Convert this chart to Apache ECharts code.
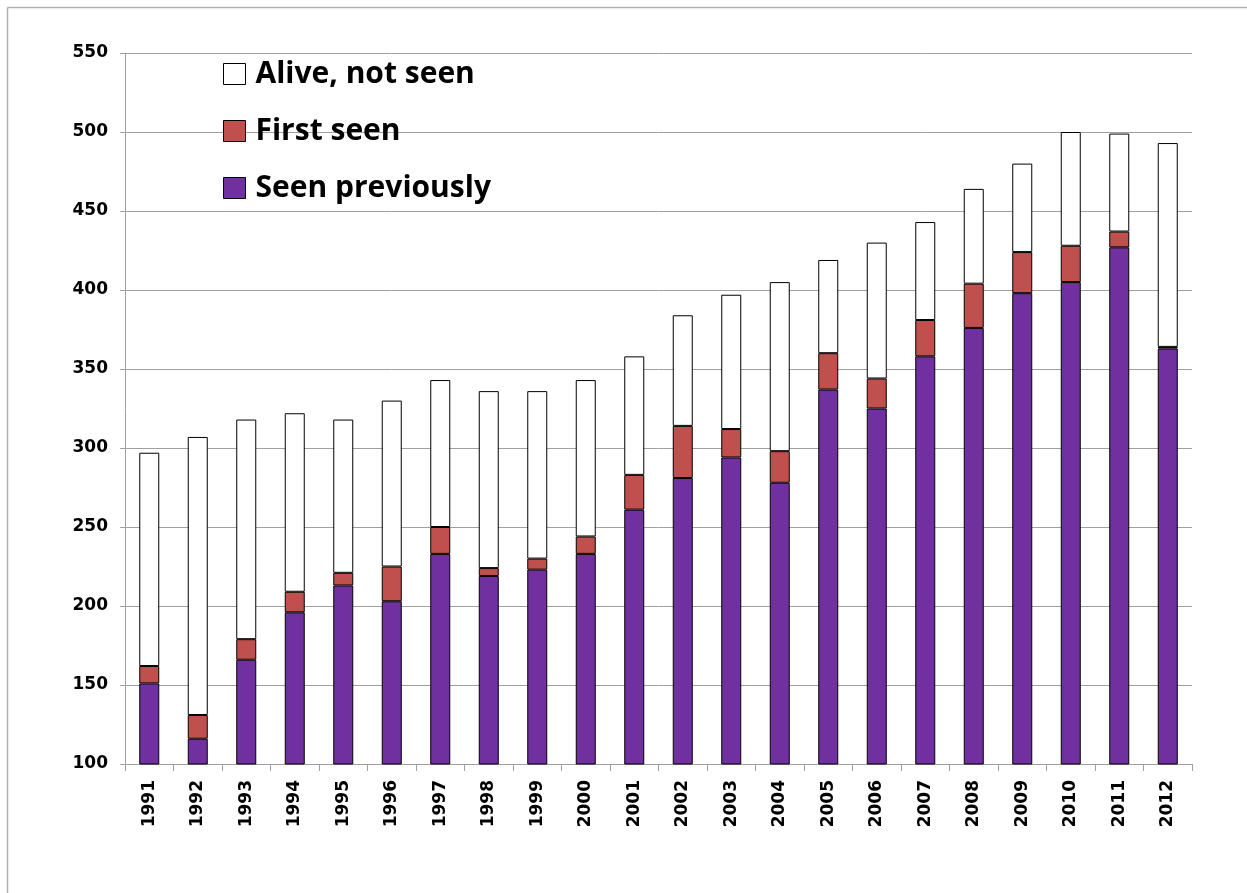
<!DOCTYPE html>
<html>
<head>
<meta charset="utf-8">
<script src="https://cdn.jsdelivr.net/npm/echarts@6/dist/echarts.min.js"></script>
<style>
  html, body { margin: 0; padding: 0; background: #fff; }
  #chart { width: 1247px; height: 893px; }
</style>
</head>
<body>
<div id="chart"></div>
<script>
// Survey years
const years = ['1991','1992','1993','1994','1995','1996','1997','1998','1999','2000','2001',
               '2002','2003','2004','2005','2006','2007','2008','2009','2010','2011','2012'];

// Individuals recorded in earlier years and seen again
const seenPreviously = [151,116,166,196,213,203,233,219,223,233,261,281,294,278,337,325,358,376,398,405,427,363];
// Individuals recorded for the first time
const firstSeen = [11,15,13,13,8,22,17,5,7,11,22,33,18,20,23,19,23,28,26,23,10,1];
// Individuals known alive but not recorded that year
const aliveNotSeen = [135,176,139,113,97,105,93,112,106,99,75,70,85,107,59,86,62,60,56,72,62,129];

const yTicks = { min: 100, max: 550, interval: 50 };

const chart = echarts.init(document.getElementById('chart'), null, { renderer: 'canvas' });

const barBase = {
  type: 'bar',
  stack: 'total',
  barWidth: 20,
  emphasis: { disabled: true }
};

const frameStyle = { stroke: '#b0b0b0', lineWidth: 1.5 };

chart.setOption({
  animation: false,
  backgroundColor: '#ffffff',
  graphic: [
    { type: 'line', silent: true, shape: { x1: 7.5, y1: 7.5, x2: 1247, y2: 7.5 }, style: frameStyle },
    { type: 'line', silent: true, shape: { x1: 7.5, y1: 7.5, x2: 7.5, y2: 893 }, style: frameStyle }
  ],
  grid: { left: 125, right: 55, top: 53, bottom: 129 },
  legend: {
    orient: 'vertical',
    left: 218,
    top: 54,
    padding: 5,
    icon: 'rect',
    itemWidth: 22,
    itemHeight: 21,
    itemGap: 27,
    data: ['Alive, not seen', 'First seen', 'Seen previously'],
    textStyle: {
      fontFamily: 'Open Sans, Liberation Sans, sans-serif',
      fontSize: 30,
      fontWeight: 'bold',
      lineHeight: 30,
      color: '#000',
      padding: [0, 0, 0, 5]
    },
    itemStyle: { borderColor: '#000', borderWidth: 1 }
  },
  xAxis: {
    type: 'category',
    data: years,
    axisLine: { lineStyle: { color: '#a0a0a0', width: 1 } },
    axisTick: { show: true, length: 7, alignWithLabel: false, lineStyle: { color: '#a0a0a0' } },
    axisLabel: {
      rotate: 90,
      margin: 16,
      fontFamily: 'DejaVu Sans, Verdana, sans-serif',
      fontWeight: 'bold',
      fontSize: 17,
      color: '#000'
    }
  },
  yAxis: {
    type: 'value',
    min: yTicks.min,
    max: yTicks.max,
    interval: yTicks.interval,
    axisLine: { show: true, lineStyle: { color: '#a0a0a0', width: 1 } },
    axisTick: { show: true, length: 5, lineStyle: { color: '#a0a0a0' } },
    splitLine: { lineStyle: { color: '#a0a0a0', width: 1 } },
    axisLabel: {
      margin: 17,
      fontFamily: 'DejaVu Sans, Verdana, sans-serif',
      fontWeight: 'bold',
      fontSize: 17,
      color: '#000'
    }
  },
  series: [
    Object.assign({}, barBase, {
      name: 'Seen previously',
      data: seenPreviously,
      itemStyle: { color: '#7030A0', borderColor: '#000', borderWidth: 1 }
    }),
    Object.assign({}, barBase, {
      name: 'First seen',
      data: firstSeen,
      itemStyle: { color: '#C0504D', borderColor: '#000', borderWidth: 1 }
    }),
    Object.assign({}, barBase, {
      name: 'Alive, not seen',
      data: aliveNotSeen,
      itemStyle: { color: '#ffffff', borderColor: '#000', borderWidth: 1 }
    })
  ]
});
</script>
</body>
</html>
